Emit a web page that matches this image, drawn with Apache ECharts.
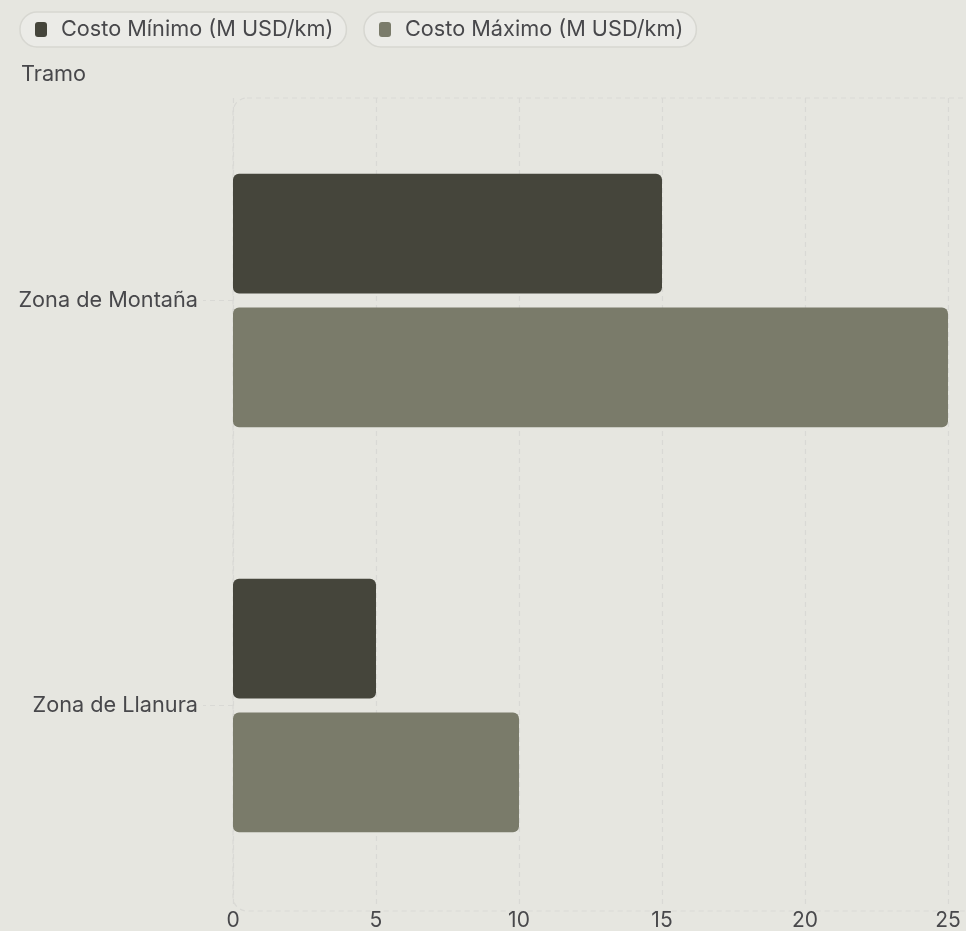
<!DOCTYPE html>
<html>
<head>
<meta charset="utf-8">
<script src="https://cdn.jsdelivr.net/npm/echarts@6/dist/echarts.min.js"></script>
<style>
html,body{margin:0;padding:0;background:#e6e6e0;}
#chart{width:966px;height:931px;}
</style>
</head>
<body>
<div id="chart"></div>
<script>
const categories = ['Zona de Llanura', 'Zona de Montaña'];
const seriesNames = ['Costo Mínimo (M USD/km)', 'Costo Máximo (M USD/km)'];
const costoMinimo = [5, 15];
const costoMaximo = [10, 25];
const xTicks = { min: 0, max: 25, interval: 5 };
const axisTitle = 'Tramo';

const colors = ['#45453b', '#7a7b6a'];
const FONT = 'Inter, "Noto Sans", sans-serif';
const FS = 21.7;
const TXT = '#48484b';
const chart = echarts.init(document.getElementById('chart'));

function pillLegend(name, left) {
  return {
    data: [name],
    left: left, top: 12,
    orient: 'horizontal',
    icon: 'roundRect',
    itemWidth: 12, itemHeight: 15,
    itemGap: 0,
    padding: [6, 13, 6, 15],
    backgroundColor: '#ebebe7',
    borderColor: '#d7d7d1',
    borderWidth: 1.5,
    borderRadius: 17,
    textStyle: { color: TXT, fontSize: FS, lineHeight: 23, fontFamily: FONT, padding: [0, 0, 0, 9] }
  };
}

chart.setOption({
  backgroundColor: '#e6e6e0',
  animation: false,
  color: colors,
  title: {
    text: axisTitle, left: 16, top: 58,
    textStyle: { color: TXT, fontSize: FS, fontWeight: 'normal', fontFamily: FONT }
  },
  legend: [pillLegend(seriesNames[0], 20), pillLegend(seriesNames[1], 364)],
  grid: { left: 233, right: 18, top: 98, bottom: 18, containLabel: false },
  graphic: [{
    type: 'rect', silent: true, z: 0,
    shape: { x: 233, y: 98, width: 760, height: 813, r: 14 },
    style: { fill: 'none', stroke: '#d9d9d5', lineWidth: 1.2, lineDash: [5, 4] }
  }],
  xAxis: {
    type: 'value', min: xTicks.min, max: xTicks.max, interval: xTicks.interval,
    axisLine: { show: false }, axisTick: { show: false },
    axisLabel: { color: TXT, fontSize: 21, fontFamily: FONT, margin: 2 },
    splitLine: { show: true, lineStyle: { color: '#d9d9d5', type: [5, 4], width: 1.2 } }
  },
  yAxis: {
    type: 'category', data: categories,
    axisLine: { show: false },
    axisTick: { show: true, alignWithLabel: true, length: 30, lineStyle: { color: '#d9d9d5', type: [5, 4] } },
    axisLabel: { color: TXT, fontSize: FS, fontFamily: FONT, margin: 35 },
    splitLine: { show: false }
  },
  series: [
    {
      name: seriesNames[0], type: 'bar', data: costoMinimo,
      barWidth: '29.6%', barGap: '11.5%',
      itemStyle: { color: colors[0], borderRadius: 6 }
    },
    {
      name: seriesNames[1], type: 'bar', data: costoMaximo,
      barWidth: '29.6%', barGap: '11.5%',
      itemStyle: { color: colors[1], borderRadius: 6 }
    }
  ]
});
</script>
</body>
</html>
